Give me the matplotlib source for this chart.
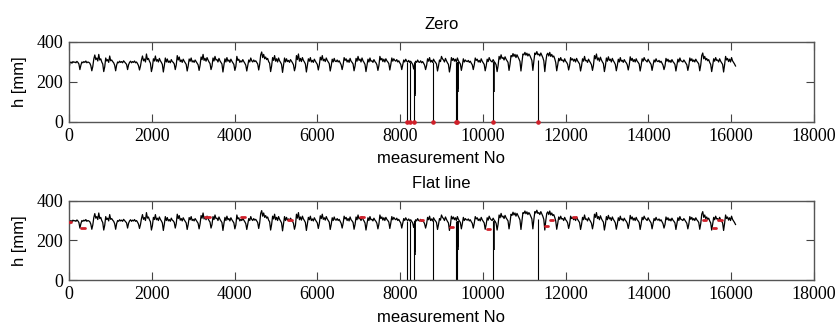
import numpy as np
import matplotlib
matplotlib.use("Agg")
import matplotlib.pyplot as plt

# ---- data ----
step = 24  # sampling step of the digitised series (measurement No)
h_days = [
    [265, 296, 300, 294, 302, 298, 300, 296, 303, 298, 290, 262],
    [284, 300, 296, 302, 298, 305, 296, 300, 298, 294, 282, 256],
    [278, 315, 335, 312, 320, 305, 338, 310, 316, 300, 290, 252],
    [276, 320, 305, 312, 298, 330, 306, 310, 302, 296, 284, 256],
    [285, 300, 296, 304, 298, 302, 296, 306, 300, 294, 288, 262],
    [286, 298, 304, 296, 302, 298, 305, 296, 300, 292, 282, 260],
    [280, 310, 330, 306, 315, 300, 340, 312, 318, 304, 294, 252],
    [274, 316, 305, 330, 304, 312, 300, 318, 306, 298, 288, 250],
    [282, 320, 300, 315, 298, 305, 296, 312, 302, 298, 290, 262],
    [285, 332, 310, 325, 302, 310, 298, 314, 304, 296, 288, 255],
    [280, 315, 304, 320, 300, 306, 298, 310, 302, 294, 286, 258],
    [284, 325, 312, 338, 308, 318, 304, 322, 310, 300, 292, 262],
    [280, 320, 305, 328, 310, 312, 300, 318, 306, 298, 290, 250],
    [285, 316, 300, 322, 304, 310, 298, 314, 304, 296, 288, 258],
    [278, 328, 308, 314, 298, 306, 300, 312, 302, 294, 284, 255],
    [282, 310, 300, 320, 306, 300, 310, 302, 306, 298, 290, 260],
    [288, 335, 350, 322, 338, 316, 325, 312, 318, 302, 294, 252],
    [280, 322, 308, 332, 304, 316, 300, 320, 306, 298, 288, 248],
    [284, 320, 300, 316, 302, 308, 298, 312, 304, 296, 286, 256],
    [276, 332, 312, 340, 304, 318, 302, 322, 308, 300, 290, 250],
    [282, 316, 304, 322, 300, 308, 298, 314, 304, 296, 288, 260],
    [285, 324, 310, 332, 306, 314, 302, 320, 308, 300, 292, 255],
    [280, 314, 300, 318, 304, 302, 310, 300, 306, 296, 286, 262],
    [286, 322, 308, 316, 300, 310, 298, 318, 304, 298, 290, 256],
    [280, 318, 304, 328, 308, 314, 300, 320, 306, 298, 288, 252],
    [284, 314, 300, 320, 304, 306, 298, 312, 302, 296, 286, 258],
    [282, 328, 310, 318, 302, 314, 300, 316, 306, 300, 292, 260],
    [288, 320, 304, 316, 308, 304, 312, 300, 306, 296, 288, 262],
    [285, 310, 300, 314, 304, 300, 308, 298, 304, 296, 288, 265],
    [290, 304, 298, 310, 300, 298, 306, 296, 302, 294, 284, 262],
    [282, 316, 304, 322, 300, 308, 298, 314, 304, 298, 290, 255],
    [280, 310, 302, 328, 316, 310, 300, 318, 306, 296, 288, 250],
    [278, 322, 308, 318, 304, 314, 300, 320, 306, 298, 290, 258],
    [284, 316, 300, 310, 304, 302, 308, 298, 304, 294, 286, 262],
    [286, 320, 308, 314, 300, 308, 298, 316, 304, 296, 288, 256],
    [280, 314, 302, 322, 310, 304, 300, 312, 302, 296, 286, 252],
    [282, 328, 314, 336, 318, 322, 310, 326, 314, 306, 298, 258],
    [290, 332, 326, 342, 328, 338, 322, 336, 326, 315, 303, 255],
    [300, 340, 336, 348, 334, 344, 330, 340, 332, 320, 308, 258],
    [305, 345, 338, 352, 336, 340, 330, 345, 334, 322, 306, 252],
    [300, 336, 344, 330, 348, 328, 338, 325, 330, 316, 298, 256],
    [285, 318, 306, 322, 308, 310, 300, 316, 304, 298, 288, 260],
    [282, 322, 310, 316, 304, 314, 300, 318, 306, 298, 290, 255],
    [280, 316, 304, 328, 306, 308, 298, 314, 304, 296, 286, 258],
    [284, 332, 316, 340, 310, 320, 304, 324, 310, 300, 292, 252],
    [280, 320, 304, 326, 308, 314, 300, 318, 306, 298, 288, 256],
    [282, 314, 300, 322, 304, 308, 298, 312, 302, 296, 286, 260],
    [285, 326, 308, 318, 302, 312, 300, 316, 304, 298, 290, 255],
    [282, 316, 304, 322, 310, 306, 300, 314, 304, 296, 288, 258],
    [284, 310, 300, 316, 304, 302, 308, 298, 304, 294, 284, 262],
    [280, 318, 304, 314, 300, 308, 298, 312, 302, 296, 288, 255],
    [286, 314, 300, 320, 306, 304, 300, 310, 302, 294, 286, 258],
    [282, 320, 306, 316, 302, 310, 300, 314, 304, 298, 290, 256],
    [285, 332, 345, 316, 328, 310, 318, 306, 312, 298, 288, 252],
    [282, 316, 304, 322, 308, 310, 300, 316, 304, 296, 288, 250],
    [286, 328, 310, 318, 302, 314, 300, 322, 306, 298, 290, 280],
]

# zero-value faults (position, level just before the drop)
zero_x = [8159, 8238, 8343, 8802, 9343, 9382, 10251, 11338]
zero_top = [298, 300, 298, 302, 300, 296, 300, 310]
# partial drops next to the zero faults (position, lowest value, level)
part_x = [8350, 8362, 9392, 9400, 10258]
part_low = [140, 128, 165, 150, 150]
part_top = [296, 296, 298, 298, 300]

# flat-line segments (start, end, level)
flat_x0 = [0, 300, 3290, 4150, 5300, 7030, 8480, 9210, 10090, 11500, 11630, 12180, 15330, 15570, 15690]
flat_x1 = [60, 380, 3400, 4260, 5390, 7120, 8560, 9280, 10170, 11580, 11700, 12260, 15400, 15640, 15780]
flat_y = [294, 262, 318, 318, 302, 318, 302, 268, 258, 272, 302, 318, 302, 262, 302]

# ---- build series ----
h_vals = np.array(h_days, dtype=float).ravel()
x_vals = np.arange(len(h_vals)) * step

plt.rcParams["font.family"] = ["Liberation Sans", "DejaVu Sans"]

fig = plt.figure(figsize=(8.39, 3.23), dpi=100)
ax1 = fig.add_axes([0.0822, 0.6223, 0.888, 0.2477])
ax2 = fig.add_axes([0.0822, 0.1331, 0.888, 0.2455])

red = "#d0202a"
for ax, title in [(ax1, "Zero"), (ax2, "Flat line")]:
    ax.plot(x_vals, h_vals, color="black", lw=0.9)
    ax.vlines(zero_x, 0, zero_top, color="black", lw=0.8)
    ax.vlines(part_x, part_low, part_top, color="black", lw=1.2)
    ax.set_xlim(0, 18000)
    ax.set_ylim(0, 400)
    ax.set_xticks(np.arange(0, 18001, 2000))
    ax.set_yticks([0, 200, 400])
    ax.tick_params(direction="in", top=True, right=True, length=5.5,
                   width=0.8, color="#444444", pad=4, labelsize=13)
    for lab in ax.get_xticklabels() + ax.get_yticklabels():
        lab.set_family(["Liberation Serif", "DejaVu Serif"])
    for s in ax.spines.values():
        s.set_color("#555555")
        s.set_linewidth(1.0)
    ax.set_title(title, fontsize=12, pad=9)
    ax.set_xlabel("measurement No", fontsize=12, labelpad=5)
    ax.set_ylabel("h [mm]", fontsize=12, labelpad=7)

ax1.plot(zero_x, np.zeros(len(zero_x)), "o", color=red, ms=2.3, clip_on=False, zorder=3)
for a, b, y in zip(flat_x0, flat_x1, flat_y):
    ax2.plot([a, b], [y, y], color=red, lw=2.0, solid_capstyle="round", zorder=3)

fig.savefig("out.png", dpi=100)
